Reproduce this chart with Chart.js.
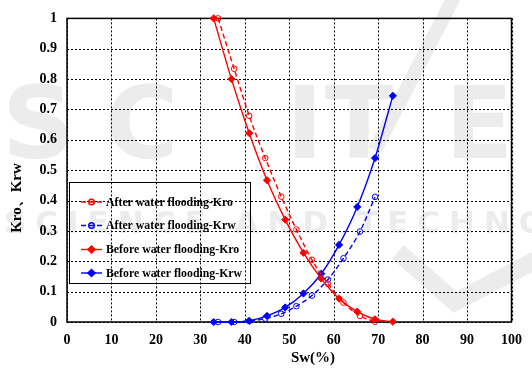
<!DOCTYPE html>
<html>
<head>
<meta charset="utf-8">
<script src="https://cdn.jsdelivr.net/npm/chart.js@4.4.1/dist/chart.umd.min.js"></script>
<style>
  html, body { margin: 0; padding: 0; background: #fff; }
  #wrap { width: 532px; height: 369px; }
</style>
</head>
<body>
<div id="wrap"><canvas id="chart" width="532" height="369"></canvas></div>
<script>
  // water saturation (%) for each test
  const swAfter = [34.0, 37.6, 41.0, 44.6, 48.2, 51.6, 55.1, 58.7, 62.2, 65.9, 69.3];
  const swBefore = [33.0, 37.0, 41.0, 45.0, 49.1, 53.2, 57.2, 61.2, 65.3, 69.3, 73.3];

  // relative permeability
  const kroAfter = [1.0, 0.834, 0.679, 0.54, 0.413, 0.305, 0.205, 0.126, 0.064, 0.02, 0.001];
  const krwAfter = [0, 0, 0.003, 0.011, 0.027, 0.052, 0.087, 0.14, 0.21, 0.298, 0.412];
  const kroBefore = [1.0, 0.8, 0.622, 0.467, 0.337, 0.228, 0.143, 0.077, 0.034, 0.009, 0.001];
  const krwBefore = [0, 0, 0.004, 0.02, 0.048, 0.094, 0.159, 0.254, 0.379, 0.54, 0.745];

  const seriesLabels = [
    "After water flooding-Kro",
    "After water flooding-Krw",
    "Before water flooding-Kro",
    "Before water flooding-Krw",
  ];
  const xTitle = "Sw(%)";
  const yTitle = "Kro、Krw";

  const serif = '"Liberation Serif", "Times New Roman", serif';
  const RED = "#ff0000";
  const BLUE = "#0000ff";

  const toPoints = (xs, ys) => xs.map((x, i) => ({ x, y: ys[i] }));

  function makeSet(label, xs, ys, color, after) {
    return {
      label,
      data: toPoints(xs, ys),
      borderColor: color,
      backgroundColor: after ? "rgba(255,255,255,0)" : color,
      pointBorderColor: color,
      pointBackgroundColor: after ? "rgba(255,255,255,0)" : color,
      borderWidth: 1.4,
      borderDash: after ? [5, 3] : [],
      pointStyle: after ? "circle" : "rectRot",
      pointRadius: after ? 2.8 : 3.6,
      pointBorderWidth: 1,
      cubicInterpolationMode: "monotone",
      showLine: true,
      clip: false,
    };
  }

  // faint watermark behind the plot
  const watermark = {
    id: "watermark",
    beforeDraw(chart) {
      const ctx = chart.ctx;
      ctx.save();
      ctx.fillStyle = "#ececec";
      ctx.strokeStyle = "#ececec";
      ctx.textBaseline = "alphabetic";
      ctx.font = "bold 100px 'DejaVu Sans'";
      [["S", 2], ["C", 105], ["I", 286], ["T", 325], ["E", 445]].forEach(([ch, x]) => {
        ctx.fillText(ch, x, 158);
      });
      ctx.font = "bold 31px 'DejaVu Sans'";
      ctx.letterSpacing = "9px";
      ctx.fillText("SCIENCE AND TECHNOLOGY", 4, 233);
      ctx.letterSpacing = "0px";
      ctx.lineWidth = 14;
      ctx.beginPath();
      ctx.moveTo(455, -5);
      ctx.lineTo(375, 150);
      ctx.stroke();
      ctx.lineWidth = 18;
      ctx.beginPath();
      ctx.moveTo(398, 252);
      ctx.lineTo(455, 302);
      ctx.lineTo(540, 258);
      ctx.stroke();
      ctx.restore();
    },
  };

  // dotted grid, solid frame, axis titles and the boxed legend
  const decorations = {
    id: "decorations",
    beforeDatasetsDraw(chart) {
      const { ctx, chartArea: a, scales } = chart;
      ctx.save();
      ctx.strokeStyle = "#000";
      ctx.lineWidth = 1;
      ctx.setLineDash([2, 2]);
      scales.x.ticks.forEach((t) => {
        const px = Math.round(scales.x.getPixelForValue(t.value)) + 0.5;
        ctx.beginPath();
        ctx.moveTo(px, a.top);
        ctx.lineTo(px, a.bottom);
        ctx.stroke();
      });
      scales.y.ticks.forEach((t) => {
        const py = Math.round(scales.y.getPixelForValue(t.value)) + 0.5;
        ctx.beginPath();
        ctx.moveTo(a.left, py);
        ctx.lineTo(a.right, py);
        ctx.stroke();
      });
      ctx.setLineDash([]);
      ctx.lineWidth = 1.5;
      ctx.strokeRect(a.left, a.top, a.right - a.left, a.bottom - a.top);
      ctx.restore();
    },
    afterDraw(chart) {
      const ctx = chart.ctx;
      ctx.save();
      ctx.fillStyle = "#000";
      ctx.font = `bold 15px ${serif}`;
      ctx.textAlign = "center";
      ctx.textBaseline = "middle";
      ctx.fillText(xTitle, 313, 358);
      ctx.translate(17, 198);
      ctx.rotate(-Math.PI / 2);
      ctx.fillText(yTitle, 0, 0);
      ctx.restore();

      // legend box
      ctx.save();
      ctx.strokeStyle = "#000";
      ctx.lineWidth = 1;
      ctx.strokeRect(69.5, 182.5, 181, 101);
      const rows = [202, 225.5, 249.5, 273];
      chart.data.datasets.forEach((ds, i) => {
        const y = rows[i];
        ctx.strokeStyle = ds.borderColor;
        ctx.lineWidth = 1.4;
        ctx.setLineDash(ds.borderDash);
        ctx.beginPath();
        ctx.moveTo(81, y);
        ctx.lineTo(102, y);
        ctx.stroke();
        ctx.setLineDash([]);
        ctx.fillStyle = ds.pointBackgroundColor;
        ctx.strokeStyle = ds.pointBorderColor;
        Chart.helpers.drawPoint(ctx, {
          pointStyle: ds.pointStyle,
          radius: ds.pointRadius,
          rotation: 0,
          borderWidth: 1,
        }, 91.5, y);
        ctx.fillStyle = "#000";
        ctx.font = `bold 11.8px ${serif}`;
        ctx.textAlign = "left";
        ctx.textBaseline = "middle";
        ctx.fillText(ds.label, 106, y + 0.5);
      });
      ctx.restore();
    },
  };

  const tickFont = { family: serif, size: 14, weight: "bold" };

  new Chart(document.getElementById("chart").getContext("2d"), {
    type: "scatter",
    data: {
      datasets: [
        makeSet(seriesLabels[0], swAfter, kroAfter, RED, true),
        makeSet(seriesLabels[1], swAfter, krwAfter, BLUE, true),
        makeSet(seriesLabels[2], swBefore, kroBefore, RED, false),
        makeSet(seriesLabels[3], swBefore, krwBefore, BLUE, false),
      ],
    },
    options: {
      responsive: false,
      animation: false,
      layout: { padding: { top: 16, right: 11, left: 0, bottom: 0 } },
      plugins: {
        legend: { display: false },
        tooltip: { enabled: false },
      },
      scales: {
        x: {
          type: "linear",
          min: 0,
          max: 100,
          afterFit: (s) => { s.height = 47; },
          grid: { display: false, drawTicks: false },
          border: { display: false },
          ticks: { stepSize: 10, padding: 10, color: "#000", font: tickFont },
        },
        y: {
          type: "linear",
          min: 0,
          max: 1,
          afterFit: (s) => { s.width = 67; },
          grid: { display: false, drawTicks: false },
          border: { display: false },
          ticks: {
            stepSize: 0.1,
            padding: 10,
            color: "#000",
            font: tickFont,
            callback: (v) => String(+v.toFixed(1)),
          },
        },
      },
    },
    plugins: [watermark, decorations],
  });
</script>
</body>
</html>
